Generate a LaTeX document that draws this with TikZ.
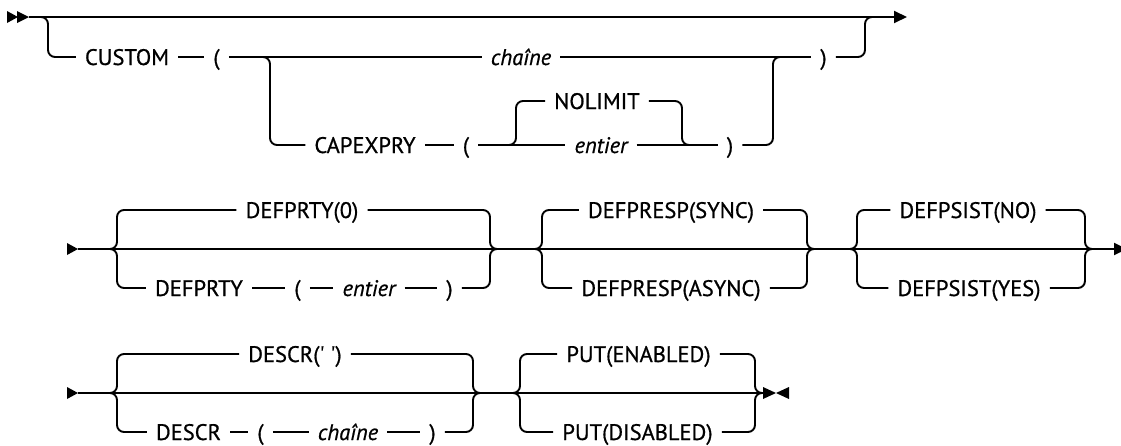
\documentclass[tikz,border=0pt]{standalone}
\usepackage{fontspec}
\setmainfont{PT Sans}[FakeBold=0.7]
\usetikzlibrary{arrows.meta}

\begin{document}
\begin{tikzpicture}[x=1pt, y=-1pt,
      rail/.style={line width=1.9pt, rounded corners=7pt},
      railend/.style={rail, -{Triangle[length=13pt,width=12pt]}},
      kw/.style={inner xsep=9pt, inner ysep=0pt, text height=16pt, text depth=0pt,
         font=\fontsize{22.5}{26}\selectfont},
      var/.style={kw, font=\fontsize{22.5}{26}\selectfont\itshape}]
   \useasboundingbox (0,0) rectangle (1121,445);
   \clip (0,0) rectangle (1121,445);
   % Row 1: CUSTOM
   \fill (7,11) -- (18,17) -- (7,23) -- cycle;
   \fill (17,11) -- (29,17) -- (17,23) -- cycle;
   \coordinate (in1) at (29,17);
   \coordinate (out1) at (907,17);
   \draw[railend] (in1) -- (out1);
   \node[kw] (custom) at (127,57) {CUSTOM};
   \node[kw] (lpA) at (216.5,57) {(};
   \node[var] (chaineA) at (521,57) {chaîne};
   \node[kw] (rpA) at (823.5,57) {)};
   \draw[rail] (40,17) -| (48,57) -- (custom.west);
   \draw[rail] (custom) -- (lpA);
   \draw[rail] (lpA) -- (chaineA);
   \draw[rail] (chaineA) -- (rpA);
   \draw[rail] (rpA.east) -| (865,17) -- (873,17);
   % CAPEXPRY branch
   \node[kw] (capexpry) at (365,145) {CAPEXPRY};
   \node[kw] (lpB) at (466,145) {(};
   \node[kw] (nolimit) at (597,101) {NOLIMIT};
   \node[var] (entierB) at (601,145) {entier};
   \node[kw] (rpB) at (730,145) {)};
   \draw[rail] (262,57) -| (270,145) -- (capexpry.west);
   \draw[rail] (capexpry) -- (lpB);
   \draw[rail] (lpB) -- (entierB);
   \draw[rail] (entierB) -- (rpB);
   \draw[rail] (rpB.east) -| (773,57) -- (781,57);
   \draw[rail] (508,145) -| (516,101) -- (nolimit.west);
   \draw[rail] (nolimit.east) -| (682,145) -- (690,145);

   % Row 2: DEFPRTY, DEFPRESP, DEFPSIST
   \fill (67,243) -- (78,249) -- (67,255) -- cycle;
   \coordinate (in2) at (78,249);
   \coordinate (out2) at (1127,249);
   \draw[railend] (in2) -- (out2);
   \node[kw] (defprtyz) at (302,210) {DEFPRTY(0)};
   \node[kw] (defprty) at (199,288) {DEFPRTY};
   \node[kw] (lpC) at (297.5,288) {(};
   \node[var] (entierC) at (369,288) {entier};
   \node[kw] (rpC) at (449.5,288) {)};
   \draw[rail] (111,249) -| (117,210) -- (defprtyz.west);
   \draw[rail] (defprtyz.east) -| (490,249) -- (496,249);
   \draw[rail] (111,249) -| (117,288) -- (defprty.west);
   \draw[rail] (defprty) -- (lpC);
   \draw[rail] (lpC) -- (entierC);
   \draw[rail] (entierC) -- (rpC);
   \draw[rail] (rpC.east) -| (490,249) -- (496,249);
   \node[kw] (respsync) at (671,210) {DEFPRESP(SYNC)};
   \node[kw] (respasync) at (671,288) {DEFPRESP(ASYNC)};
   \draw[rail] (536,249) -| (542,210) -- (respsync.west);
   \draw[rail] (respsync.east) -| (807,249) -- (813,249);
   \draw[rail] (536,249) -| (542,288) -- (respasync.west);
   \draw[rail] (respasync.east) -| (807,249) -- (813,249);
   \node[kw] (psistno) at (968,210) {DEFPSIST(NO)};
   \node[kw] (psistyes) at (969,288) {DEFPSIST(YES)};
   \draw[rail] (851,249) -| (857,210) -- (psistno.west);
   \draw[rail] (psistno.east) -| (1085,249) -- (1091,249);
   \draw[rail] (851,249) -| (857,288) -- (psistyes.west);
   \draw[rail] (psistyes.east) -| (1085,249) -- (1091,249);

   % Row 3: DESCR, PUT
   \fill (67,387) -- (78,393) -- (67,399) -- cycle;
   \coordinate (in3) at (78,393);
   \coordinate (out3) at (763,393);
   \draw[rail] (in3) -- (out3);
   \fill (763,387) -- (776,393) -- (763,399) -- cycle;
   \fill (789,387) -- (776,393) -- (789,399) -- cycle;
   \node[kw] (descrq) at (295,354) {DESCR(\textquotesingle\ \textquotesingle)};
   \node[kw] (descr) at (188.5,432) {DESCR};
   \node[kw] (lpD) at (260.5,432) {(};
   \node[var] (chaineD) at (348,432) {chaîne};
   \node[kw] (rpD) at (432.5,432) {)};
   \draw[rail] (111,393) -| (117,354) -- (descrq.west);
   \draw[rail] (descrq.east) -| (473,393) -- (479,393);
   \draw[rail] (111,393) -| (117,432) -- (descr.west);
   \draw[rail] (descr) -- (lpD);
   \draw[rail] (lpD) -- (chaineD);
   \draw[rail] (chaineD) -- (rpD);
   \draw[rail] (rpD.east) -| (473,393) -- (479,393);
   \node[kw] (puten) at (638.5,354) {PUT(ENABLED)};
   \node[kw] (putdis) at (637.5,432) {PUT(DISABLED)};
   \draw[rail] (514,393) -| (520,354) -- (puten.west);
   \draw[rail] (puten.east) -| (755,393) -- (761,393);
   \draw[rail] (514,393) -| (520,432) -- (putdis.west);
   \draw[rail] (putdis.east) -| (755,393) -- (761,393);
\end{tikzpicture}
\end{document}
